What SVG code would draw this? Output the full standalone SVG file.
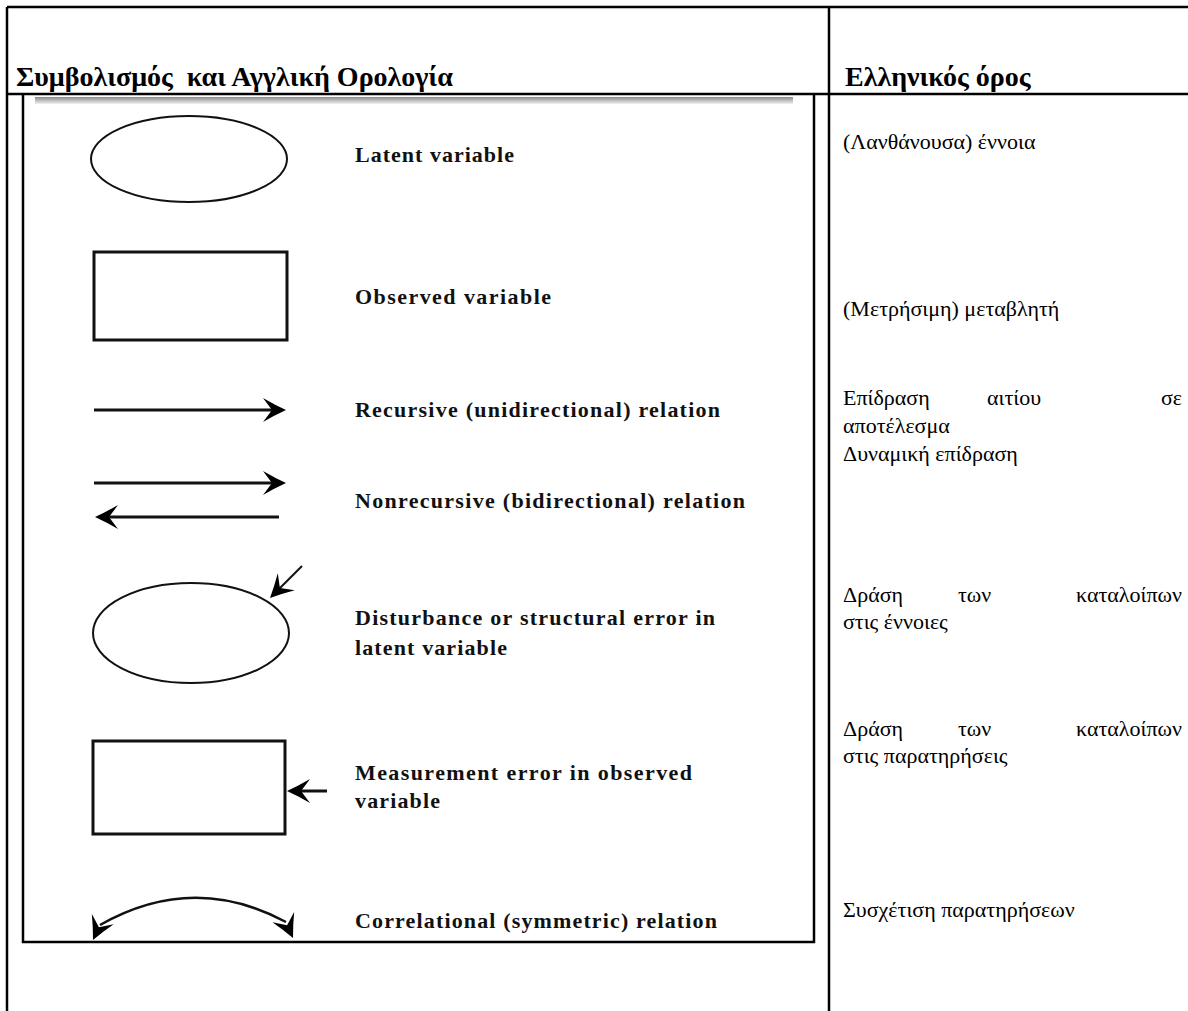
<svg xmlns="http://www.w3.org/2000/svg" width="1188" height="1011" viewBox="0 0 1188 1011">
  <style>
    .rule { stroke: #000; stroke-width: 2.5; fill: none; }
    .shape { stroke: #111; fill: none; }
    .head { fill: #000; }
    .hdr { font-family: "Liberation Serif", "Times New Roman", serif; font-weight: bold; font-size: 28px; fill: #000; white-space: pre; }
    .en { font-family: "Liberation Serif", "Times New Roman", serif; font-weight: bold; font-size: 22px; fill: #111; }
    .gr { font-family: "Liberation Serif", "Times New Roman", serif; font-size: 22px; fill: #000; }
  </style>
  <defs>
    <!-- barbed arrowhead, tip at origin, pointing along +x -->
    <path id="head" class="head" d="M0,0 Q-11,-5 -23,-12 L-14,0 L-23,12 Q-11,5 0,0 Z"/>
    <linearGradient id="shadow" x1="0" y1="0" x2="0" y2="1">
      <stop offset="0" stop-color="#8a8a8a"/>
      <stop offset="1" stop-color="#f2f2f2"/>
    </linearGradient>
  </defs>

  <rect width="1188" height="1011" fill="#fff"/>

  <!-- table grid -->
  <g id="table">
    <line class="rule" x1="7" y1="7" x2="1188" y2="7"/>
    <line class="rule" x1="7" y1="7" x2="7" y2="1011"/>
    <line class="rule" x1="829" y1="7" x2="829" y2="1011"/>
    <line class="rule" stroke-width="3" x1="7" y1="94" x2="1188" y2="94"/>
    <text class="hdr" x="16" y="86">Συμβολισμός  και Αγγλική Ορολογία</text>
    <text class="hdr" x="845" y="86">Ελληνικός όρος</text>
  </g>

  <!-- symbol panel frame -->
  <g id="panel">
    <rect x="35" y="97" width="758" height="7" fill="url(#shadow)"/>
    <polyline class="rule" points="23,95 23,942 814,942 814,95"/>
  </g>

  <g id="latent">
    <ellipse class="shape" stroke-width="2" cx="189" cy="159" rx="98" ry="43"/>
    <text class="en" x="355" y="162" textLength="159">Latent variable</text>
  </g>

  <g id="observed">
    <rect class="shape" stroke-width="3" x="94" y="252" width="193" height="88"/>
    <text class="en" x="355" y="304" textLength="196">Observed variable</text>
  </g>

  <g id="disturbance">
    <ellipse class="shape" stroke-width="2" cx="191" cy="633" rx="98" ry="50"/>
    <text class="en" x="355" y="625" textLength="360">Disturbance or structural error in</text>
    <text class="en" x="355" y="655" textLength="152">latent variable</text>
  </g>

  <g id="measurement">
    <rect class="shape" stroke-width="3" x="93" y="741" width="192" height="93"/>
    <text class="en" x="355" y="780" textLength="337">Measurement error in observed</text>
    <text class="en" x="355" y="808" textLength="85">variable</text>
  </g>

  <g id="recursive-label"><text class="en" x="355" y="417" textLength="365">Recursive (unidirectional) relation</text></g>
  <g id="nonrecursive-label"><text class="en" x="355" y="508" textLength="390">Nonrecursive (bidirectional) relation</text></g>
  <g id="correlational-label"><text class="en" x="355" y="928" textLength="362">Correlational (symmetric) relation</text></g>

  <!-- arrows -->
  <g id="connectors">
    <line class="shape" stroke-width="3" x1="94" y1="410" x2="272" y2="410"/>
    <use href="#head" transform="translate(286,410)"/>

    <line class="shape" stroke-width="3" x1="94" y1="483" x2="272" y2="483"/>
    <use href="#head" transform="translate(286,483)"/>
    <line class="shape" stroke-width="3" x1="279" y1="517" x2="108" y2="517"/>
    <use href="#head" transform="translate(95,517) rotate(180)"/>

    <line class="shape" stroke-width="2" x1="302" y1="566" x2="279" y2="589"/>
    <use href="#head" transform="translate(270,598) rotate(135)"/>

    <line class="shape" stroke-width="3" x1="327" y1="791" x2="300" y2="791"/>
    <use href="#head" transform="translate(287,791) rotate(180)"/>

    <path class="shape" stroke-width="2.5" d="M100,925 Q193,872 286,922"/>
    <use href="#head" transform="translate(93,940) rotate(115)"/>
    <use href="#head" transform="translate(293,938) rotate(65)"/>
  </g>

  <!-- Greek terms column -->
  <g id="terms">
    <text class="gr" x="843" y="149">(Λανθάνουσα) έννοια</text>
    <text class="gr" x="843" y="316">(Μετρήσιμη) μεταβλητή</text>
    <text class="gr" x="843" y="405">Επίδραση</text>
    <text class="gr" x="987" y="405">αιτίου</text>
    <text class="gr" x="1182" y="405" text-anchor="end">σε</text>
    <text class="gr" x="843" y="433">αποτέλεσμα</text>
    <text class="gr" x="843" y="461">Δυναμική επίδραση</text>
    <text class="gr" x="843" y="602">Δράση</text>
    <text class="gr" x="958" y="602">των</text>
    <text class="gr" x="1182" y="602" text-anchor="end">καταλοίπων</text>
    <text class="gr" x="843" y="629">στις έννοιες</text>
    <text class="gr" x="843" y="736">Δράση</text>
    <text class="gr" x="958" y="736">των</text>
    <text class="gr" x="1182" y="736" text-anchor="end">καταλοίπων</text>
    <text class="gr" x="843" y="763">στις παρατηρήσεις</text>
    <text class="gr" x="843" y="917">Συσχέτιση παρατηρήσεων</text>
  </g>
</svg>
